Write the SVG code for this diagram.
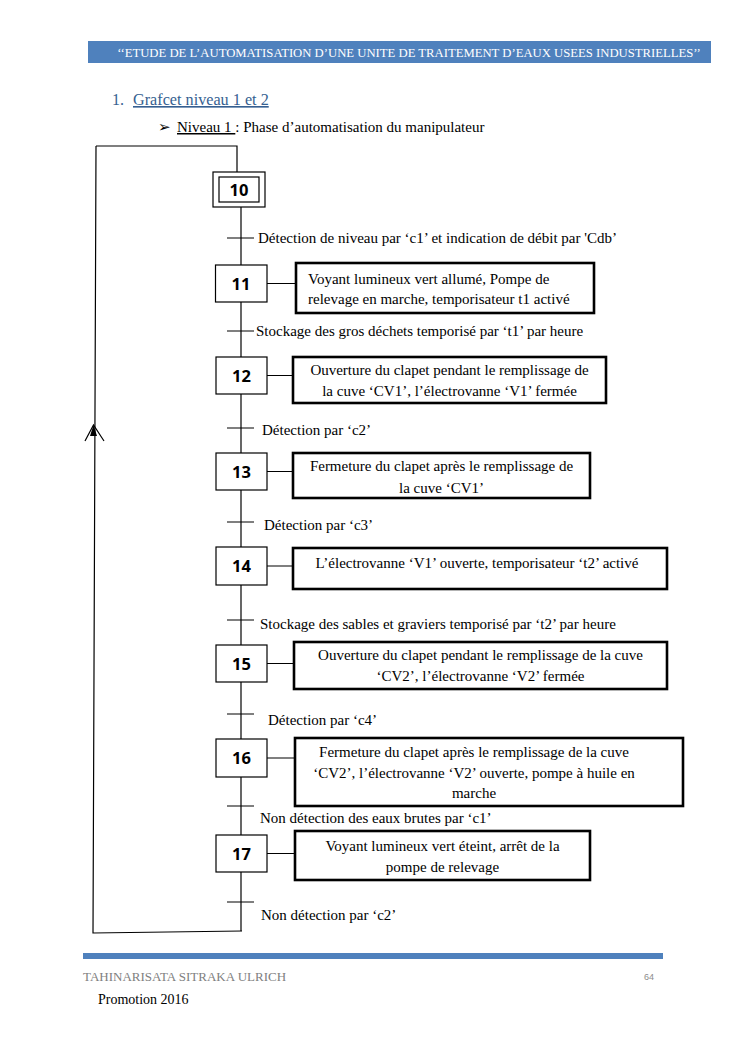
<svg xmlns="http://www.w3.org/2000/svg" width="745" height="1053" viewBox="0 0 745 1053">
<defs>
<style>
.serif{font-family:'Liberation Serif','Times New Roman','DejaVu Serif',serif;fill:#000}
.lbl{font-family:'Liberation Serif','Times New Roman','DejaVu Serif',serif;font-size:15px;fill:#000}
.num{font-family:"Open Sans","DejaVu Sans",sans-serif;font-size:16.5px;font-weight:bold;fill:#000;text-anchor:middle}
.step{fill:#fff;stroke:#000;stroke-width:1.2}
.act{fill:#fff;stroke:#000;stroke-width:2.6}
.ln{stroke:#000;stroke-width:1.2;fill:none}
.mid{text-anchor:middle}
</style>
</defs>
<rect width="745" height="1053" fill="#fff"/>
<!-- header -->
<rect x="88" y="41" width="623" height="22" fill="#4F81BD"/>
<text class="serif" x="409" y="56.5" font-size="12.7" style="fill:#fff" text-anchor="middle">‘‘ETUDE DE L’AUTOMATISATION D’UNE UNITE DE TRAITEMENT D’EAUX USEES INDUSTRIELLES’’</text>
<text class="serif" x="112" y="105" font-size="16" style="fill:#365F91">1.</text>
<text class="serif" x="133" y="105" font-size="16.2" style="fill:#365F91" text-decoration="underline">Grafcet niveau 1 et 2</text>
<text x="158" y="132" font-family="DejaVu Sans,sans-serif" font-size="15" fill="#000">➢</text>
<text class="serif" x="177" y="132" font-size="15"><tspan text-decoration="underline">Niveau 1 </tspan>: Phase d’automatisation du manipulateur</text>

<!-- connectors -->
<g id="connectors">
<path class="ln" d="M96,146 L237,146 L237,172"/>
<path class="ln" d="M96,146 L93,933 L242,931"/>
<path d="M93.5,425 L90,436 L97,436 Z" fill="#000"/>
<path class="ln" d="M85,441 L93.5,425 L104,441"/>
<path class="ln" d="M241,207 L241,931"/>
<path class="ln" d="M227,238 H254 M227,331 H254 M227,428 H254 M227,522 H254 M227,620 H254 M227,714 H254 M227,806 H254 M227,902 H254"/>
<path class="ln" d="M267,283.5 H296 M267,375.5 H293 M267,471.5 H293 M267,566 H293 M267,663.5 H294 M267,758 H295 M267,853.5 H295"/>
</g>

<g id="step10"><rect class="step" x="213" y="172" width="52" height="35"/><rect class="step" x="219" y="177" width="40" height="25"/><text class="num" x="239" y="195.5">10</text></g>

<g id="t1"><text class="lbl" x="258" y="243">Détection de niveau par ‘c1’ et indication de débit par 'Cdb’</text></g>

<g id="step11"><rect class="step" x="215.5" y="265" width="51.5" height="37"/><text class="num" x="241" y="289.5">11</text></g>
<g id="action11"><rect class="act" x="296" y="263" width="298" height="50"/><text class="lbl" x="308" y="284">Voyant lumineux vert allumé, Pompe de</text><text class="lbl" x="308" y="304">relevage en marche, temporisateur t1 activé</text></g>

<g id="t2"><text class="lbl" x="256" y="336">Stockage des gros déchets temporisé par ‘t1’ par heure</text></g>

<g id="step12"><rect class="step" x="216" y="357" width="51" height="37"/><text class="num" x="241.5" y="381.5">12</text></g>
<g id="action12"><rect class="act" x="293" y="357" width="313" height="46"/><text class="lbl mid" x="449.5" y="375">Ouverture du clapet pendant le remplissage de</text><text class="lbl mid" x="449.5" y="396">la cuve ‘CV1’, l’électrovanne ‘V1’ fermée</text></g>

<g id="t3"><text class="lbl" x="262" y="435">Détection par ‘c2’</text></g>

<g id="step13"><rect class="step" x="216" y="453" width="51" height="37"/><text class="num" x="241.5" y="477.5">13</text></g>
<g id="action13"><rect class="act" x="293" y="453" width="297" height="45"/><text class="lbl mid" x="441.5" y="471">Fermeture du clapet après le remplissage de</text><text class="lbl mid" x="441.5" y="493">la cuve ‘CV1’</text></g>

<g id="t4"><text class="lbl" x="264" y="530">Détection par ‘c3’</text></g>

<g id="step14"><rect class="step" x="216" y="547" width="51" height="38"/><text class="num" x="241.5" y="572">14</text></g>
<g id="action14"><rect class="act" x="293" y="548" width="374" height="41"/><text class="lbl mid" x="477" y="568">L’électrovanne ‘V1’ ouverte,  temporisateur ‘t2’ activé</text></g>

<g id="t5"><text class="lbl" x="260" y="629">Stockage des sables et graviers temporisé par ‘t2’ par heure</text></g>

<g id="step15"><rect class="step" x="216" y="645" width="51" height="37"/><text class="num" x="241.5" y="669.5">15</text></g>
<g id="action15"><rect class="act" x="294" y="642" width="373" height="47"/><text class="lbl mid" x="480.5" y="660">Ouverture du clapet pendant le remplissage de la cuve</text><text class="lbl mid" x="480.5" y="681">‘CV2’, l’électrovanne ‘V2’ fermée</text></g>

<g id="t6"><text class="lbl" x="268" y="725">Détection par ‘c4’</text></g>

<g id="step16"><rect class="step" x="216" y="739" width="51" height="38"/><text class="num" x="241.5" y="764">16</text></g>
<g id="action16"><rect class="act" x="295" y="738" width="388" height="68"/><text class="lbl mid" x="474" y="757">Fermeture du clapet après le remplissage de la cuve</text><text class="lbl mid" x="474" y="778">‘CV2’, l’électrovanne ‘V2’ ouverte, pompe à huile en</text><text class="lbl mid" x="474" y="798">marche</text></g>

<g id="t7"><text class="lbl" x="260" y="823">Non détection des eaux brutes par ‘c1’</text></g>

<g id="step17"><rect class="step" x="216" y="835" width="51" height="37"/><text class="num" x="241.5" y="859.5">17</text></g>
<g id="action17"><rect class="act" x="295" y="831" width="295" height="49"/><text class="lbl mid" x="442.5" y="851">Voyant lumineux vert éteint, arrêt de la</text><text class="lbl mid" x="442.5" y="872">pompe de relevage</text></g>

<g id="t8"><text class="lbl" x="261" y="920">Non détection par ‘c2’</text></g>

<!-- footer -->
<rect x="83" y="953" width="580" height="6" fill="#4F81BD"/>
<text class="serif" x="83" y="981" font-size="13" style="fill:#808080">TAHINARISATA SITRAKA ULRICH</text>
<text x="644" y="980" font-family="Liberation Sans,sans-serif" font-size="9" fill="#8c8c8c">64</text>
<text class="serif" x="98" y="1004" font-size="14">Promotion 2016</text>
</svg>
